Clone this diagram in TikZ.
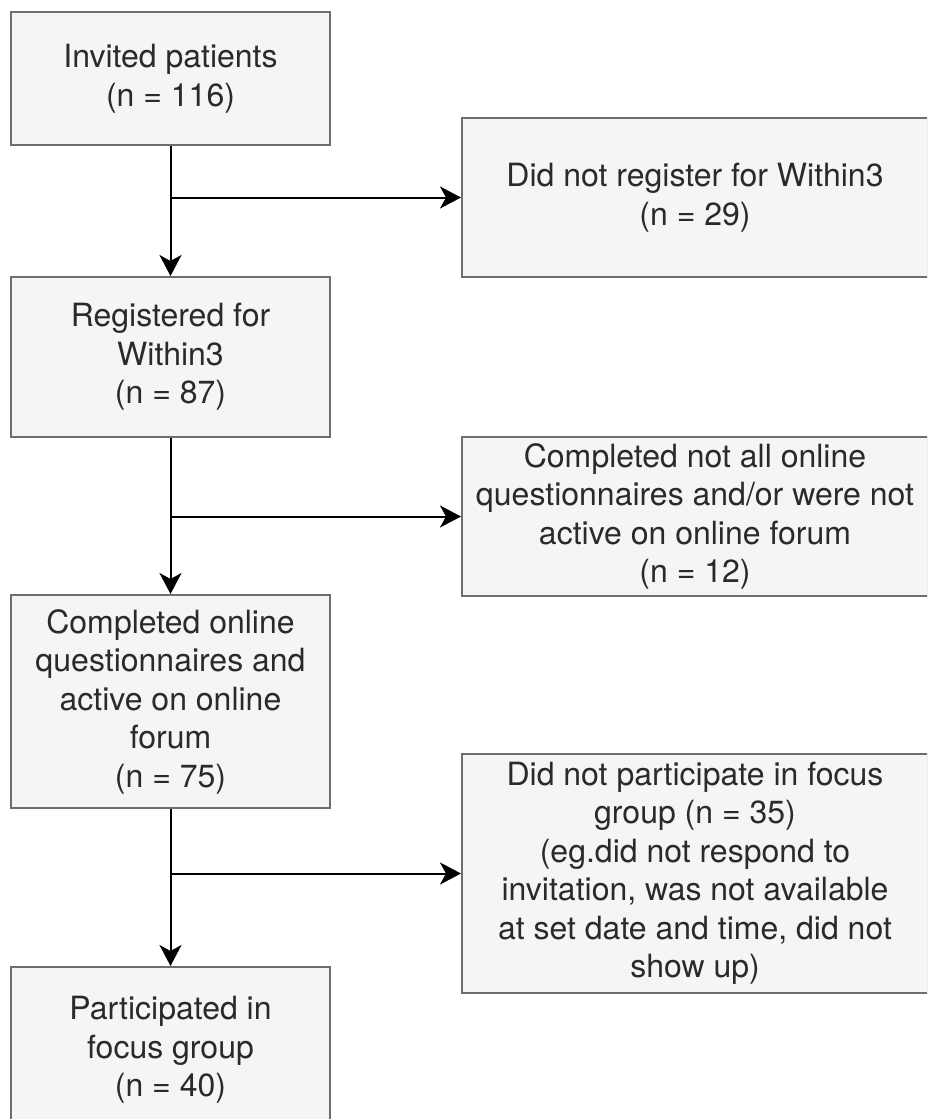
\documentclass[tikz,border=0pt]{standalone}
\usepackage{fontspec}
\setmainfont{TeX Gyre Heros}
\usetikzlibrary{arrows.meta}
\definecolor{boxfill}{HTML}{F5F5F5}
\definecolor{boxline}{HTML}{6E6E6E}
\definecolor{txt}{HTML}{2A2A2A}
\tikzset{
  flowbox/.style={draw=boxline, fill=boxfill, line width=2pt, rectangle, align=center,
    inner sep=0pt, text=txt, font=\fontsize{32}{38.5}\selectfont},
  flowarrow/.style={draw=black, line width=2pt, -{Stealth[length=21pt,width=22pt,inset=6pt]}},
}
\begin{document}
\begin{tikzpicture}[x=1pt,y=1pt]
\useasboundingbox (0,0) rectangle (927,-1119);
\fill[white] (0,0) rectangle (927,-1119);
\clip (0,0) rectangle (927,-1119);
\node[flowbox, minimum width=319pt, minimum height=133pt] (b1) at (170.5,-78.5) {Invited patients\\(n = 116)};
\node[flowbox, minimum width=319pt, minimum height=160pt] (b2) at (170.5,-357) {Registered for\\Within3\\(n = 87)};
\node[flowbox, minimum width=319pt, minimum height=213pt] (b3) at (170.5,-701.5) {Completed online\\questionnaires and\\active on online\\forum\\(n = 75)};
\node[flowbox, minimum width=319pt, minimum height=166pt] (b4) at (170.5,-1050) {Participated in\\focus group\\(n = 40)};
\node[flowbox, minimum width=466pt, minimum height=159pt] (r1) at (695,-197.5) {Did not register for Within3\\(n = 29)};
\node[flowbox, minimum width=466pt, minimum height=159pt] (r2) at (695,-516.5) {Completed not all online\\questionnaires and/or were not\\active on online forum\\(n = 12)};
\node[flowbox, minimum width=466pt, minimum height=239pt] (r3) at (695,-873.5) {Did not participate in focus\\group (n = 35)\\(eg.did not respond to\\invitation, was not available\\at set date and time, did not\\show up)};
\coordinate (j1) at (b1.south |- r1.west);
\coordinate (j2) at (b2.south |- r2.west);
\coordinate (j3) at (b3.south |- r3.west);
\draw[flowarrow] (b1.south) -- (b2.north);
\draw[flowarrow] (j1) -- (r1.west);
\draw[flowarrow] (b2.south) -- (b3.north);
\draw[flowarrow] (j2) -- (r2.west);
\draw[flowarrow] (b3.south) -- (b4.north);
\draw[flowarrow] (j3) -- (r3.west);
\end{tikzpicture}
\end{document}
